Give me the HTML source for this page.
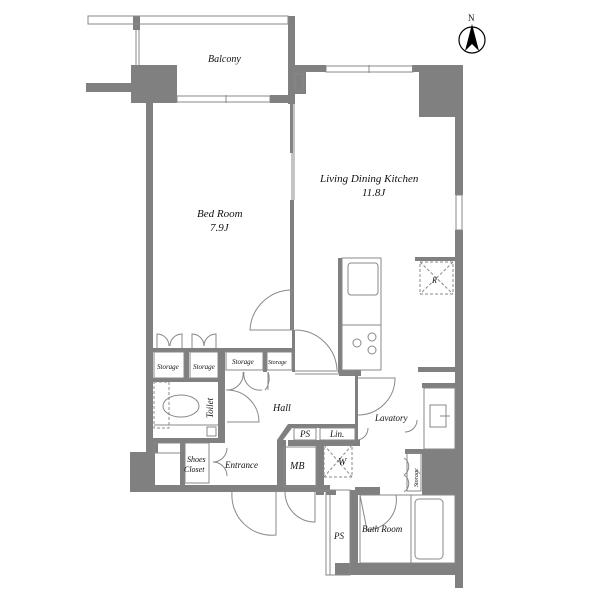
<!DOCTYPE html>
<html><head><style>
html,body{margin:0;padding:0;background:#fff;}
svg{display:block}
text{font-family:"Liberation Serif",serif;font-style:italic;fill:#111;}
</style></head><body>
<svg width="600" height="600" viewBox="0 0 600 600" xmlns="http://www.w3.org/2000/svg">
<g fill="#808080" stroke="none">
<!-- balcony -->
<rect x="288" y="16" width="7" height="88"/>
<rect x="133" y="16" width="7" height="14"/>
<rect x="131" y="65" width="46" height="38"/>
<rect x="86" y="83" width="46" height="9"/>
<rect x="270" y="95" width="25" height="8"/>
<rect x="293" y="65" width="33" height="7"/>
<rect x="293" y="72" width="13" height="22"/>
<rect x="412" y="65" width="51" height="7"/>
<rect x="419" y="65" width="44" height="52"/>
<!-- right wall -->
<rect x="455" y="65" width="8" height="130"/>
<rect x="455" y="230" width="8" height="358"/>
<!-- bedroom left wall -->
<rect x="146" y="103" width="7" height="350"/>
<rect x="130" y="452" width="25" height="40"/>
<rect x="130" y="485" width="200" height="7"/>
<!-- bed/ldk partition -->
<rect x="290" y="103" width="3" height="50"/>
<rect x="290" y="200" width="4" height="130"/>
<!-- storage walls -->
<rect x="153" y="348" width="140" height="4"/>
<rect x="184" y="348" width="5" height="32"/>
<rect x="218" y="348" width="7" height="92"/>
<rect x="263" y="350" width="4" height="22"/>
<rect x="292" y="330" width="3" height="42"/>
<rect x="153" y="378" width="72" height="4"/>
<rect x="153" y="438" width="72" height="5"/>
<rect x="153" y="443" width="5" height="10"/>
<!-- hall/entrance -->
<rect x="180" y="442" width="5" height="45"/>
<polygon points="277,440 288,424 357,424 357,428 292,428 283,440 283,485 277,485"/>
<rect x="288" y="440" width="70" height="6"/>
<rect x="281" y="440" width="5" height="50"/>
<rect x="315" y="440" width="3" height="4"/>
<rect x="316" y="440" width="8" height="55"/>
<rect x="320" y="440" width="40" height="6"/>
<!-- kitchen counter base -->
<rect x="339" y="370" width="22" height="6"/>
<rect x="338" y="258" width="4" height="115"/>
<!-- lavatory -->
<rect x="355" y="372" width="3" height="70"/>
<rect x="418" y="367" width="37" height="5"/>
<rect x="422" y="383" width="33" height="5"/>
<rect x="422" y="449" width="40" height="46"/>
<rect x="405" y="449" width="18" height="5"/>
<rect x="355" y="487" width="25" height="8"/>
<rect x="326" y="490" width="10" height="5"/>
<rect x="350" y="490" width="8" height="85"/>
<rect x="335" y="563" width="128" height="12"/>
<rect x="415" y="257" width="40" height="4"/>
</g>
<g fill="none" stroke="#888" stroke-width="1">
<!-- balcony rail -->
<rect x="88" y="16" width="200" height="8"/>
<line x1="136" y1="30" x2="136" y2="65"/><line x1="139" y1="30" x2="139" y2="65"/>
<!-- windows -->
<rect x="177" y="96" width="93" height="6"/>
<line x1="226" y1="95" x2="226" y2="103"/>
<rect x="326" y="66" width="87" height="6"/>
<line x1="369" y1="65" x2="369" y2="73"/>
<rect x="456" y="195" width="6" height="35"/>
<rect x="295" y="74" width="8" height="17"/>
<line x1="292" y1="103" x2="292" y2="200"/>
<line x1="294" y1="103" x2="294" y2="200"/>
<!-- doors -->
<path d="M250,330 A42,42 0 0 1 292,290 L292,330 Z"/>
<path d="M295,330 A42,42 0 0 1 337,370"/>
<line x1="295" y1="371" x2="355" y2="371"/>
<line x1="295" y1="374" x2="355" y2="374"/>
<!-- storage doors -->
<path d="M157,348 v-14 a12,12 0 0 1 12,12 M182,348 v-14 a12,12 0 0 0 -12,12"/>
<path d="M192,348 v-14 a12,12 0 0 1 12,12 M216,348 v-14 a12,12 0 0 0 -12,12"/>
<rect x="154" y="352" width="30" height="26"/>
<rect x="190" y="352" width="28" height="26"/>
<rect x="226" y="352" width="37" height="18"/>
<rect x="267" y="352" width="25" height="18"/>
<path d="M226,390 a16,16 0 0 0 17,-18 M262,390 a16,16 0 0 1 -18,-18"/>
<path d="M268,390 v-18 a18,18 0 0 1 -3,18"/>
<path d="M227,390 a32,32 0 0 1 32,32 L227,422"/>
<!-- toilet -->
<ellipse cx="181" cy="406" rx="18" ry="11"/>
<rect x="154" y="382" width="15" height="46" stroke-dasharray="3,2"/>
<line x1="154" y1="425" x2="218" y2="425"/>
<rect x="207" y="427" width="9" height="9"/>
<rect x="154" y="443" width="27" height="10"/>
<!-- shoes closet/entrance -->
<rect x="185" y="443" width="24" height="40"/>
<line x1="209" y1="443" x2="209" y2="483"/>
<path d="M213,462 a14,14 0 0 0 14,-14 M213,462 a14,14 0 0 1 14,14"/>
<path d="M276,492 L276,535 A40,40 0 0 1 232,492"/>
<path d="M315,492 L315,522 A30,30 0 0 1 285,492"/>
<line x1="232" y1="491" x2="330" y2="491"/>
<!-- MB, W -->
<rect x="284" y="447" width="32" height="40"/>
<rect x="324" y="445" width="28" height="32" stroke-dasharray="3,2"/>
<line x1="324" y1="445" x2="352" y2="477" stroke-dasharray="3,2"/>
<line x1="352" y1="445" x2="324" y2="477" stroke-dasharray="3,2"/>
<rect x="294" y="428" width="22" height="12"/>
<rect x="320" y="428" width="35" height="12"/>
<!-- lavatory doors -->
<path d="M358,415 a37,37 0 0 0 37,-37 L358,378"/>
<path d="M358,440 a12,12 0 0 0 10,-12"/>
<path d="M405,432 a12,12 0 0 0 12,-12" />
<path d="M404,458 a10,10 0 0 1 0,17 M404,475 a10,10 0 0 1 0,17"/>
<rect x="407" y="453" width="14" height="38"/>
<rect x="424" y="388" width="31" height="61"/>
<rect x="430" y="405" width="16" height="22"/>
<line x1="440" y1="416" x2="450" y2="416"/>
<!-- bath -->
<rect x="360" y="495" width="95" height="68"/>
<line x1="411" y1="495" x2="411" y2="563"/>
<rect x="415" y="499" width="28" height="60" rx="4"/>
<path d="M360,495 L367,530 M396,495 a30,30 0 0 1 -29,35"/>
<rect x="326" y="490" width="24" height="85"/>
<line x1="330" y1="495" x2="330" y2="575"/>
<!-- kitchen -->
<rect x="342" y="258" width="39" height="112"/>
<rect x="348" y="263" width="30" height="32" rx="3"/>
<circle cx="357" cy="343" r="4"/><circle cx="372" cy="337" r="4"/><circle cx="372" cy="350" r="4"/>
<line x1="342" y1="325" x2="381" y2="325"/>
<!-- R -->
<rect x="420" y="262" width="33" height="32" stroke-dasharray="3,2"/>
<line x1="420" y1="262" x2="453" y2="294" stroke-dasharray="3,2"/>
<line x1="453" y1="262" x2="420" y2="294" stroke-dasharray="3,2"/>
</g>
<!-- north arrow -->
<g>
<circle cx="472" cy="40" r="13" fill="none" stroke="#000" stroke-width="1.2"/>
<polygon points="472,24 465,51 472,44 479,51" fill="#000"/>
<text x="468" y="21" font-size="9" style="font-style:normal">N</text>
</g>
<g font-size="10">
<text x="208" y="62">Balcony</text>
<text x="320" y="182" font-size="11">Living Dining Kitchen</text>
<text x="362" y="196" font-size="11">11.8J</text>
<text x="197" y="217" font-size="11">Bed Room</text>
<text x="210" y="231" font-size="11">7.9J</text>
<text x="157" y="369" font-size="7">Storage</text>
<text x="193" y="369" font-size="7">Storage</text>
<text x="232" y="364" font-size="7">Storage</text>
<text x="268" y="364" font-size="6">Storage</text>
<text x="273" y="411" font-size="10">Hall</text>
<text x="375" y="421" font-size="9">Lavatory</text>
<text x="300" y="437" font-size="9">PS</text>
<text x="330" y="437" font-size="9">Lin.</text>
<text x="338" y="465" font-size="10">W</text>
<text x="432" y="283" font-size="8">R</text>
<text x="187" y="462" font-size="8">Shoes</text>
<text x="184" y="472" font-size="8">Closet</text>
<text x="225" y="468" font-size="9">Entrance</text>
<text x="290" y="469" font-size="10">MB</text>
<text x="334" y="539" font-size="9">PS</text>
<text x="362" y="532" font-size="9">Bath Room</text>
<text transform="translate(213,418) rotate(-90)" font-size="9">Toilet</text>
<text transform="translate(418,487) rotate(-90)" font-size="6">Storage</text>
</g>
</svg>
</body></html>
